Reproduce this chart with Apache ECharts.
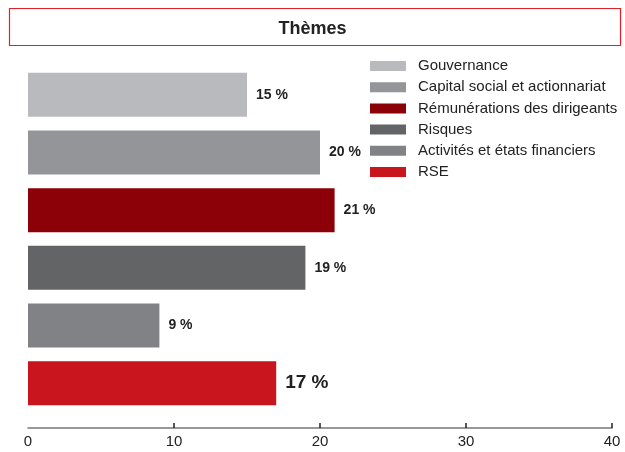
<!DOCTYPE html>
<html><head><meta charset="utf-8">
<script src="https://cdn.jsdelivr.net/npm/echarts@6/dist/echarts.min.js"></script>
<style>html,body{margin:0;padding:0;background:#fff}#c{width:625px;height:452px}</style>
</head><body><div id="c"></div>
<script>
var categories = ['Gouvernance','Capital social et actionnariat','Rémunérations des dirigeants','Risques','Activités et états financiers','RSE'];
var values = [15, 20, 21, 19, 9, 17];
var colors = ['#b9babd','#939598','#8c0008','#636466','#818285','#c8151e'];
var xTicks = [0, 10, 20, 30, 40];
var FONT = '"Liberation Sans Narrow","Arial Narrow","Liberation Sans",sans-serif';

var series = categories.map(function(name, i){
  var d = categories.map(function(_, j){ return j === i ? values[i] : '-'; });
  var big = (i === categories.length - 1);
  return {
    name: name, type: 'bar', stack: 'all', barWidth: 44,
    itemStyle: { color: colors[i] },
    data: d,
    label: { show: true, position: 'right', distance: 9,
      formatter: '{c} %', fontFamily: FONT, fontWeight: 'bold',
      fontSize: big ? 19 : 14, color: '#222' }
  };
});

var chart = echarts.init(document.getElementById('c'), null, {renderer:'canvas'});
chart.setOption({
  animation: false,
  graphic: [{ type: 'rect', shape: { x: 9.5, y: 8.5, width: 611, height: 37 },
    style: { fill: 'none', stroke: '#e3202a', lineWidth: 1.2 } }],
  title: { text: 'Thèmes', left: 'center', top: 15,
    textStyle: { fontFamily: '"Liberation Sans",Arial,sans-serif', fontWeight: 'bold', fontSize: 18, color: '#222' } },
  legend: { orient: 'vertical', left: 365, top: 53.5, itemWidth: 36, itemHeight: 10, itemGap: 6.2,
    icon: 'rect', data: categories,
    textStyle: { fontFamily: FONT, fontSize: 15, color: '#222', lineHeight: 15, padding: [0,0,0,7] } },
  grid: { left: 28, right: 13, top: 66, height: 346 },
  xAxis: { type: 'value', min: xTicks[0], max: xTicks[xTicks.length-1], interval: 10, offset: 16,
    axisLine: { show: true, lineStyle: { color: '#777', width: 1.5 } },
    axisTick: { show: true, inside: true, length: 5, customValues: xTicks.slice(1), lineStyle: { color: '#222', width: 1.5 } },
    splitLine: { show: false },
    axisLabel: { fontFamily: FONT, fontSize: 15, color: '#222', margin: 6 } },
  yAxis: { type: 'category', data: categories, inverse: true, show: false },
  series: series
});
</script></body></html>
